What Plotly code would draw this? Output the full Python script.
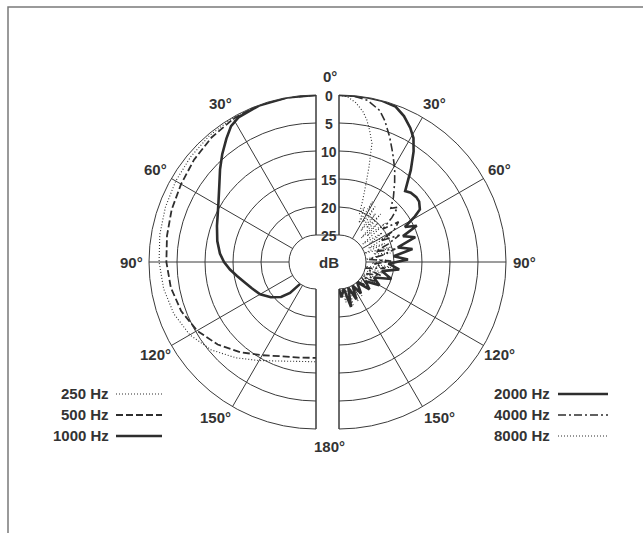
import math
import plotly.graph_objects as go

W, H = 643, 533

# ---- left half: low frequencies (angle in degrees, level in dB) ----
theta_250 = [0, 10, 20, 30, 40, 50, 60, 70, 80, 90, 100, 110, 120, 130, 140, 150, 160, 170, 180]
db_250 = [0, 0, 0, -0.1, -0.3, -0.6, -0.9, -1.2, -1.5, -1.8, -2.2, -2.8, -3.8, -5.4, -7.5, -9.5,
          -11.0, -11.8, -12.0]

theta_500 = [0, 10, 20, 30, 40, 50, 60, 70, 80, 90, 100, 110, 120, 130, 140, 150, 160, 170, 180]
db_500 = [0, 0, 0, -0.3, -0.8, -1.4, -2.0, -2.4, -2.8, -3.1, -3.5, -4.2, -5.3, -6.9, -8.8, -10.6,
          -11.9, -12.5, -12.7]

theta_1000 = [0, 10, 20, 28, 32, 36, 41, 46, 52, 58, 64, 70, 78, 85, 90, 95, 100, 106, 112,
              120, 128, 135, 140, 144]
db_1000 = [0, 0, -0.1, -0.5, -1.2, -2.6, -4.3, -6.0, -7.9, -9.3, -10.3, -11.0, -11.8, -12.6, -13.4,
           -14.4, -15.5, -16.6, -17.4, -18.3, -19.6, -21.0, -22.6, -25.0]

# ---- right half: high frequencies ----
theta_2000 = [0, 5, 10, 15, 20, 24, 28, 31, 34, 38, 40, 43, 46, 50, 53, 57, 59, 62, 65, 68, 72,
              76, 80, 84, 88, 92, 97, 102, 108, 114, 120, 126, 132, 138, 145, 150, 155, 160, 165,
              170, 176, 180]
db_2000 = [0, 0, 0, 0, -0.3, -1.3, -2.7, -4.0, -6.0, -9.0, -10.6, -12.5, -12.0, -11.8, -11.9, -12.6,
           -14.0, -16.5, -14.5, -17.5, -15.5, -19.0, -16.5, -20.0, -17.5, -21.0, -19.0, -22.0, -20.0,
           -23.0, -21.5, -24.0, -22.5, -25.0, -23.0, -25.0, -22.5, -25.0, -21.5, -25.0, -23.5, -25.0]

theta_4000 = [0, 5, 10, 15, 18, 22, 26, 31, 35, 40, 44, 47, 50, 53, 56, 60, 63, 66, 70, 74, 77,
              81, 85, 89, 93, 98, 103, 108, 113, 118, 124, 130, 136, 142]
db_4000 = [0, -0.1, -0.5, -1.8, -3.3, -5.7, -8.0, -10.5, -12.5, -14.7, -16.5, -15.5, -17.5, -20.0,
           -17.0, -18.5, -21.5, -18.0, -20.5, -23.0, -19.5, -22.0, -24.5, -20.5, -23.5, -21.5, -25.0,
           -22.0, -24.5, -22.5, -25.0, -23.0, -25.0, -25.0]

theta_8000 = [0, 3, 6, 9, 11, 13, 15.5, 17.5, 19, 21, 23, 25, 27, 29, 31, 33, 35, 37, 39, 41, 43,
              45, 47, 50, 53, 56, 59, 62, 65, 68, 71, 74, 77, 80, 84, 88, 92, 96, 100, 104, 108, 112,
              116, 122, 128, 134, 140, 146, 150, 154, 158, 162, 166, 170, 175]
db_8000 = [0, -0.3, -1.2, -2.6, -3.9, -5.6, -7.8, -12.0, -15.0, -18.0, -20.5, -19.0, -22.0, -17.5,
           -21.5, -18.0, -23.0, -19.0, -22.0, -18.5, -24.0, -20.0, -23.0, -19.0, -24.5, -20.5, -23.5,
           -19.5, -24.0, -21.0, -25.0, -20.0, -23.5, -20.5, -25.0, -21.0, -24.0, -20.5, -25.0, -21.5,
           -24.5, -22.0, -25.0, -23.0, -25.0, -23.5, -25.0, -22.5, -25.0, -22.0, -25.0, -21.5, -25.0,
           -22.5, -25.0]

ring_db = [0, -5, -10, -15, -20, -25]
ring_labels = ["0", "5", "10", "15", "20", "25"]
angle_ticks = [0, 30, 60, 90, 120, 150, 180]
side_labels = ["30°", "60°", "90°", "120°", "150°"]

# geometry of the two half-diagrams (pixels)
CX_L, CX_R, CY, R = 316, 339, 262, 167
HOLE_PX = 27
INK = "#2e2e2e"
GRID = "#3a3a3a"
FONT = "Liberation Sans"


def px(x):
    return x / W


def py(y):
    return 1 - y / H


fig = go.Figure()

left_series = [
    (theta_250, db_250, dict(color=INK, width=1.1, dash="1px,2px")),
    (theta_500, db_500, dict(color=INK, width=1.8, dash="7px,3px")),
    (theta_1000, db_1000, dict(color=INK, width=2.6)),
]
right_series = [
    (theta_8000, db_8000, dict(color=INK, width=1.1, dash="1px,2px")),
    (theta_4000, db_4000, dict(color=INK, width=1.6, dash="8px,3px,2px,3px")),
    (theta_2000, db_2000, dict(color=INK, width=2.6)),
]
for th, db, ln in left_series:
    fig.add_trace(go.Scatterpolar(r=db, theta=th, mode="lines", line=ln,
                                  subplot="polar", showlegend=False, hoverinfo="skip"))
for th, db, ln in right_series:
    fig.add_trace(go.Scatterpolar(r=db, theta=th, mode="lines", line=ln,
                                  subplot="polar2", showlegend=False, hoverinfo="skip"))

ang_common = dict(tickmode="array", tickvals=angle_ticks, showticklabels=False, ticks="",
                  gridcolor=GRID, gridwidth=1, showline=True, linecolor=GRID, linewidth=1,
                  rotation=90)
rad_common = dict(range=[-25, 0], tickmode="array", tickvals=ring_db, showticklabels=False,
                  ticks="", gridcolor=GRID, gridwidth=1, showline=False)

fig.update_layout(
    width=W, height=H,
    margin=dict(l=0, r=0, t=0, b=0),
    paper_bgcolor="white",
    plot_bgcolor="white",
    polar=dict(
        domain=dict(x=[px(CX_L - R), px(CX_L)], y=[py(CY + R), py(CY - R)]),
        sector=[90, 270], hole=HOLE_PX / R, bgcolor="rgba(0,0,0,0)",
        angularaxis=dict(**ang_common, direction="counterclockwise"),
        radialaxis=rad_common,
    ),
    polar2=dict(
        domain=dict(x=[px(CX_R), px(CX_R + R)], y=[py(CY + R), py(CY - R)]),
        sector=[-90, 90], hole=HOLE_PX / R, bgcolor="rgba(0,0,0,0)",
        angularaxis=dict(**ang_common, direction="clockwise"),
        radialaxis=rad_common,
    ),
)

shapes = []
# page frame (runs off the right and bottom edges)
shapes.append(dict(type="rect", xref="paper", yref="paper", x0=px(8), x1=px(660), y0=py(560), y1=py(7),
                   line=dict(color="#7a7a7a", width=1.5)))
# closing line across the centre gap at the top of the dB circle
shapes.append(dict(type="line", xref="paper", yref="paper", x0=px(CX_L), x1=px(CX_R),
                   y0=py(CY - HOLE_PX), y1=py(CY - HOLE_PX), line=dict(color=GRID, width=1)))

annotations = []


def label(x, y, text, size=15, anchor="center"):
    annotations.append(dict(x=px(x), y=py(y), xref="paper", yref="paper", text=f"<b>{text}</b>",
                            showarrow=False, xanchor=anchor, yanchor="middle",
                            font=dict(family=FONT, size=size, color="#333333")))


# angle labels on both halves
label_angles = [31, 60, 90, 120, 147]
LR = 185
for a, t in zip(label_angles, side_labels):
    dx = LR * math.sin(math.radians(a))
    dy = -LR * math.cos(math.radians(a))
    label(CX_L - dx, CY + dy, t)
    label(CX_R + dx, CY + dy, t)
MID = (CX_L + CX_R) / 2
label(MID + 2, 77, "0°")
label(MID + 2, 446, "180°")

# dB scale in the centre gap
step = (R - HOLE_PX) / 25
for d, t in zip(ring_db, ring_labels):
    label(MID + 1, CY - (R + d * step) + 1, t, size=14)
label(MID + 1, CY, "dB", size=15)

# keys
left_keys = [("250 Hz", "1px,2px", 1.1), ("500 Hz", "7px,3px", 1.8), ("1000 Hz", "solid", 2.6)]
right_keys = [("2000 Hz", "solid", 2.6), ("4000 Hz", "8px,3px,2px,3px", 1.6), ("8000 Hz", "1px,2px", 1.1)]
key_y = [393, 414, 435]
for (t, dash, w), y in zip(left_keys, key_y):
    label(111, y, t, size=15, anchor="right")
    shapes.append(dict(type="line", xref="paper", yref="paper", x0=px(116), x1=px(162),
                       y0=py(y + 1), y1=py(y + 1), line=dict(color=INK, width=w, dash=dash)))
for (t, dash, w), y in zip(right_keys, key_y):
    label(552, y, t, size=15, anchor="right")
    shapes.append(dict(type="line", xref="paper", yref="paper", x0=px(558), x1=px(608),
                       y0=py(y + 1), y1=py(y + 1), line=dict(color=INK, width=w, dash=dash)))

fig.update_layout(shapes=shapes, annotations=annotations)
fig.write_html("out.html")
